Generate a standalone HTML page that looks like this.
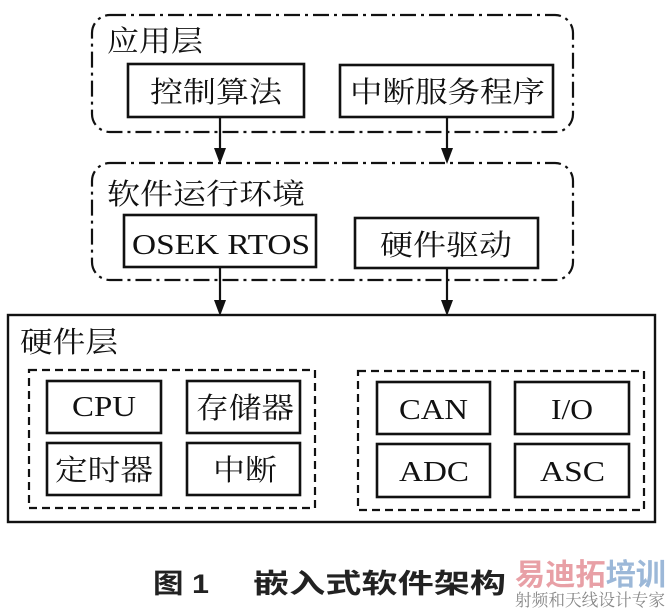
<!DOCTYPE html>
<html><head><meta charset="utf-8"><style>html,body{margin:0;padding:0;background:#fff}svg{display:block}</style></head>
<body>
<svg width="666" height="609" viewBox="0 0 666 609" xmlns="http://www.w3.org/2000/svg">
<g fill="none" stroke="#111" stroke-width="2.2">
<rect x="92" y="15" width="481" height="117" rx="18" stroke-dasharray="16 5 3 5"/>
<rect x="92" y="163" width="481" height="117" rx="18" stroke-dasharray="16 5 3 5"/>
<rect x="128" y="64" width="176" height="53" stroke-width="2.6"/>
<rect x="340" y="65" width="213" height="52" stroke-width="2.6"/>
<rect x="124" y="215" width="192" height="52" stroke-width="2.6"/>
<rect x="355" y="218" width="183" height="50" stroke-width="2.6"/>
<rect x="8" y="315" width="647" height="207" stroke-width="2.4"/>
<rect x="29" y="370" width="286" height="138" stroke-dasharray="8 5"/>
<rect x="358" y="371" width="286" height="139" stroke-dasharray="8 5"/>
<rect x="47" y="381" width="114" height="52" stroke-width="2.6"/>
<rect x="187" y="381" width="113" height="52" stroke-width="2.6"/>
<rect x="47" y="443" width="114" height="52" stroke-width="2.6"/>
<rect x="187" y="443" width="113" height="52" stroke-width="2.6"/>
<rect x="377" y="382" width="113" height="52" stroke-width="2.6"/>
<rect x="515" y="382" width="114" height="52" stroke-width="2.6"/>
<rect x="377" y="444" width="113" height="53" stroke-width="2.6"/>
<rect x="515" y="444" width="114" height="53" stroke-width="2.6"/>
<line x1="220" y1="117" x2="220" y2="150"/>
<line x1="447" y1="117" x2="447" y2="150"/>
<line x1="220" y1="267" x2="220" y2="302"/>
<line x1="447" y1="268" x2="447" y2="302"/>
</g>
<g fill="#111">
<path d="M214,148 L226,148 L220,164 Z"/>
<path d="M441,148 L453,148 L447,164 Z"/>
<path d="M214,300 L226,300 L220,316 Z"/>
<path d="M441,300 L453,300 L447,316 Z"/>
</g>
<g font-family="'Liberation Serif','Noto Serif CJK SC',serif" font-size="29" fill="#111">
<text x="107" y="51" textLength="96" lengthAdjust="spacingAndGlyphs">应用层</text>
<text x="150" y="102" textLength="132" lengthAdjust="spacingAndGlyphs">控制算法</text>
<text x="350" y="102" textLength="195" lengthAdjust="spacingAndGlyphs">中断服务程序</text>
<text x="107" y="204" textLength="198" lengthAdjust="spacingAndGlyphs">软件运行环境</text>
<text x="132" y="254" textLength="178" lengthAdjust="spacingAndGlyphs">OSEK RTOS</text>
<text x="380" y="255" textLength="132" lengthAdjust="spacingAndGlyphs">硬件驱动</text>
<text x="20" y="352" textLength="98" lengthAdjust="spacingAndGlyphs">硬件层</text>
<text x="72" y="416" textLength="64" lengthAdjust="spacingAndGlyphs">CPU</text>
<text x="196" y="418" textLength="98" lengthAdjust="spacingAndGlyphs">存储器</text>
<text x="55" y="480" textLength="98" lengthAdjust="spacingAndGlyphs">定时器</text>
<text x="213" y="480" textLength="64" lengthAdjust="spacingAndGlyphs">中断</text>
<text x="399" y="419" textLength="69" lengthAdjust="spacingAndGlyphs">CAN</text>
<text x="551" y="419" textLength="42" lengthAdjust="spacingAndGlyphs">I/O</text>
<text x="399" y="481" textLength="70" lengthAdjust="spacingAndGlyphs">ADC</text>
<text x="540" y="481" textLength="65" lengthAdjust="spacingAndGlyphs">ASC</text>
</g>
<g font-family="'Liberation Sans','Noto Sans CJK SC',sans-serif" font-weight="bold" font-size="27" fill="#222">
<text x="153" y="593" textLength="56" lengthAdjust="spacingAndGlyphs">图 1</text>
<text x="253" y="593" textLength="253" lengthAdjust="spacingAndGlyphs">嵌入式软件架构</text>
</g>
<text x="515" y="585" font-family="'Noto Sans CJK SC',sans-serif" font-weight="bold" font-size="30" fill="#e8a0a6" textLength="151" lengthAdjust="spacingAndGlyphs">易迪拓<tspan fill="#9cb8d8">培训</tspan></text>
<text x="515" y="606" font-family="'Noto Serif CJK SC',serif" font-size="17" fill="#888" textLength="150" lengthAdjust="spacingAndGlyphs">射频和天线设计专家</text>
</svg>
</body></html>
